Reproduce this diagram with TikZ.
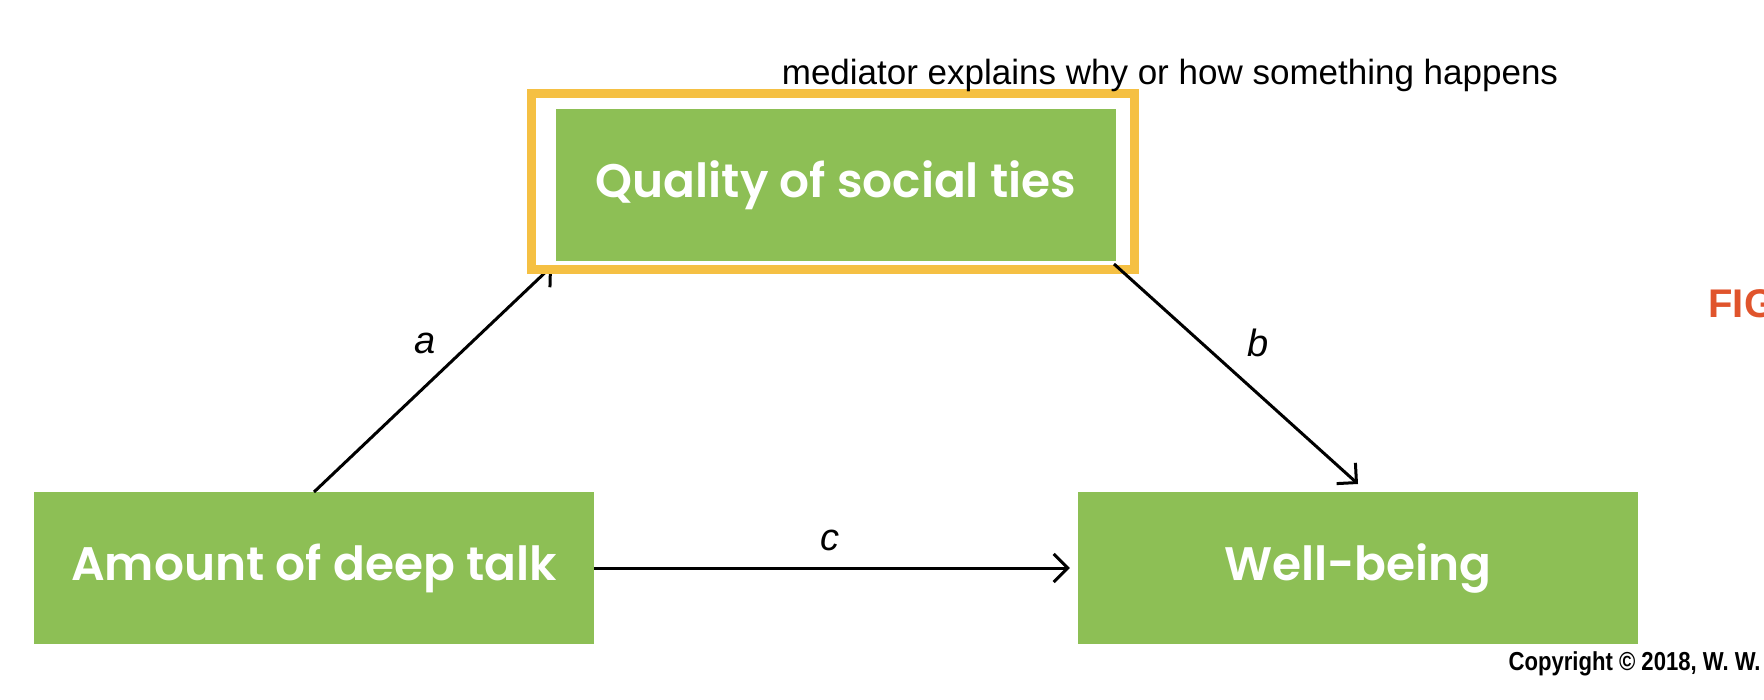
\documentclass[tikz,border=0pt]{standalone}
\usepackage{fontspec}
\setmainfont{Liberation Sans}
\newfontfamily\boxfont{Poppins SemiBold}
\newfontfamily\copyfont[FakeStretch=0.85]{Liberation Sans}
\usetikzlibrary{arrows.meta}
\definecolor{boxgreen}{HTML}{8DBF55}
\definecolor{frameyellow}{HTML}{F5C043}
\definecolor{figred}{HTML}{E0542C}
\tikzset{
  box/.style={fill=boxgreen, draw=none, minimum width=560pt, minimum height=152pt, inner sep=0pt, text=white, font=\boxfont\fontsize{47}{54}\selectfont},
  conn/.style={line width=3pt, -{Straight Barb[length=14pt,width=28pt,line width=3pt]}},
  lab/.style={font=\fontsize{38}{42}\selectfont\itshape}
}
\begin{document}
\begin{tikzpicture}[x=1pt,y=-1pt]
\useasboundingbox (0,0) rectangle (1764,700);
\clip (0,0) rectangle (1764,700);
\node[box] (deep) at (314,568) {Amount of deep talk};
\node[box] (well) at (1358,568) {Well-being};
\coordinate (as) at (314,492);
\coordinate (atip) at (552,266);
\coordinate (bstart) at (1114,264);
\coordinate (btip) at (1358,484);
\draw[conn] (as) -- (atip);
\node[lab] (la) at (425,343) {a};
\node[box] (qual) at (836,185) {Quality of social ties};
\node[draw=frameyellow, fill=none, line width=9pt, minimum width=603pt, minimum height=176pt, inner sep=0pt] (frame) at (833,182) {};
\draw[conn] (bstart) -- (btip);
\node[lab] (lb) at (1258,343) {b};
\draw[conn] (deep.east) -- ([xshift=-8pt]well.west);
\node[lab] (lc) at (830,540) {c};
\node[font=\fontsize{35}{40}\selectfont] (med) at (1170,75) {mediator explains why or how something happens};
\node[anchor=west, text=figred, font=\bfseries\fontsize{40}{46}\selectfont] (fig) at (1705,304) {FIGURE};
\node[anchor=west, font=\copyfont\bfseries\fontsize{26}{30}\selectfont] (copy) at (1505,664) {Copyright © 2018, W. W. Norton};
\end{tikzpicture}
\end{document}
